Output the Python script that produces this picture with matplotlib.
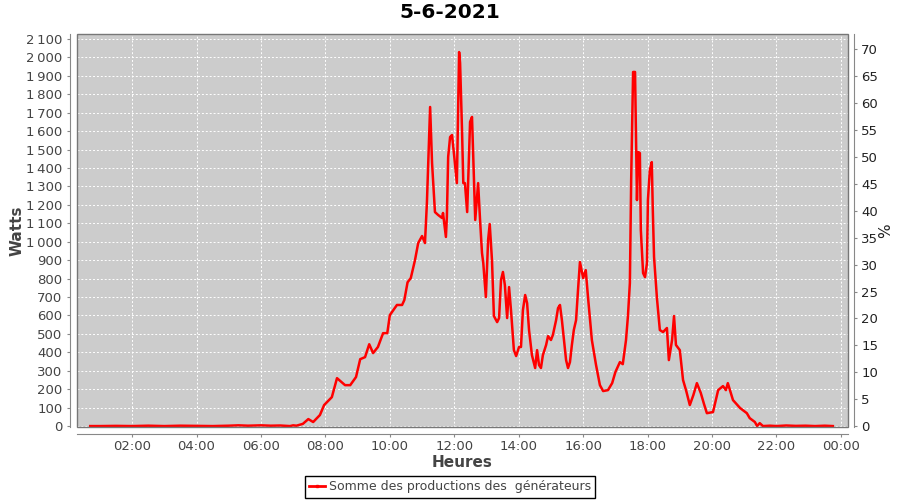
import matplotlib
matplotlib.use("Agg")
import matplotlib.pyplot as plt
from matplotlib.lines import Line2D
from matplotlib.patches import Rectangle
from matplotlib.ticker import FuncFormatter, MultipleLocator

# production data (hours of the day, watts)
hours = [0.7, 1.0, 1.5, 2.0, 2.5, 3.0, 3.5, 4.0, 4.5, 5.0, 5.3, 5.6, 6.0, 6.3,
         6.6, 6.9, 7.0, 7.1, 7.22, 7.3, 7.47, 7.62, 7.83, 7.96, 8.2, 8.36,
         8.61, 8.77, 8.95, 9.08, 9.23, 9.36, 9.48, 9.63, 9.79, 9.92, 10.0,
         10.22, 10.38, 10.45, 10.55, 10.65, 10.78, 10.88, 11.0, 11.09, 11.15,
         11.25, 11.31, 11.4, 11.5, 11.62, 11.65, 11.74, 11.77, 11.81, 11.87,
         11.93, 12.0, 12.08, 12.15, 12.18, 12.24, 12.28, 12.33, 12.4, 12.49,
         12.55, 12.6, 12.65, 12.74, 12.8, 12.86, 12.9, 12.98, 13.05, 13.1,
         13.17, 13.23, 13.33, 13.39, 13.45, 13.51, 13.57, 13.64, 13.7, 13.76,
         13.85, 13.92, 14.01, 14.07, 14.13, 14.2, 14.26, 14.32, 14.41, 14.51,
         14.57, 14.63, 14.69, 14.75, 14.85, 14.91, 15.0, 15.06, 15.16, 15.22,
         15.28, 15.34, 15.41, 15.47, 15.53, 15.59, 15.65, 15.71, 15.78, 15.84,
         15.9, 16.0, 16.08, 16.15, 16.27, 16.4, 16.52, 16.62, 16.77, 16.9,
         17.0, 17.14, 17.23, 17.33, 17.39, 17.45, 17.49, 17.55, 17.61, 17.67,
         17.71, 17.76, 17.79, 17.86, 17.92, 17.98, 18.01, 18.07, 18.13, 18.16,
         18.2, 18.29, 18.38, 18.48, 18.6, 18.66, 18.76, 18.82, 18.88, 19.0,
         19.1, 19.2, 19.31, 19.42, 19.53, 19.65, 19.75, 19.84, 20.03, 20.19,
         20.34, 20.43, 20.49, 20.65, 20.87, 21.08, 21.17, 21.33, 21.4, 21.48,
         21.58, 21.8, 22.0, 22.3, 22.6, 22.9, 23.2, 23.5, 23.75]
watts = [0, 0, 1, 0, 2, 0, 2, 1, 0, 2, 4, 2, 4, 2,
         3, 0, 4, 2, 8, 12, 38, 22, 60, 114, 157, 260,
         222, 222, 266, 363, 374, 444, 396, 429, 504, 504, 602,
         657, 657, 684, 780, 803, 900, 993, 1031, 993, 1210,
         1731, 1427, 1161, 1145, 1129, 1156, 1026, 1134, 1460, 1568,
         1579, 1460, 1318, 2029, 1970, 1606, 1318, 1318, 1161, 1650,
         1677, 1389, 1118, 1318, 1118, 939, 884, 700, 1010, 1096,
         900, 597, 564, 586, 792, 836, 765, 586, 754, 629,
         412, 380, 429, 429, 629, 711, 667, 521, 385, 315,
         412, 331, 315, 385, 440, 488, 467, 494, 575, 640,
         657, 575, 456, 358, 315, 347, 440, 521, 575, 738,
         890, 803, 846, 700, 467, 331, 222, 190, 195, 233,
         293, 347, 336, 467, 597, 776, 1335, 1921, 1921, 1226,
         1487, 1481, 1063, 830, 808, 884, 1226, 1389, 1432, 1183,
         917, 694, 521, 510, 532, 358, 467, 597, 440, 412,
         250, 190, 114, 168, 233, 180, 120, 70, 76, 195,
         217, 195, 233, 141, 98, 70, 43, 22, 0, 16,
         0, 2, 0, 3, 1, 2, 0, 2, 0]

x_ticks = [2, 4, 6, 8, 10, 12, 14, 16, 18, 20, 22, 24]
x_labels = ["02:00", "04:00", "06:00", "08:00", "10:00", "12:00",
            "14:00", "16:00", "18:00", "20:00", "22:00", "00:00"]
rated_power = 29.2  # watts per percent

txt = "#444444"
axis_col = "#888888"

fig = plt.figure(figsize=(9, 5), dpi=100)
ax = fig.add_axes([77 / 900, 73 / 500, 771 / 900, 393 / 500])
ax.set_facecolor("#cccccc")

ax.plot(hours, watts, color="red", lw=1.8, zorder=3)

ax.set_xlim(0.29, 24.22)
ax.set_ylim(-5, 2127)
ax.set_xticks(x_ticks)
ax.set_xticklabels(x_labels)
ax.yaxis.set_major_locator(MultipleLocator(100))
ax.yaxis.set_major_formatter(FuncFormatter(
    lambda v, p: f"{int(v):,}".replace(",", "\u2009")))

ax.grid(True, color="white", linestyle=(0, (2, 2)), linewidth=0.7)
ax.set_axisbelow(True)

for s in ["top", "right"]:
    ax.spines[s].set_visible(False)
ax.spines["left"].set_position(("outward", 5))
ax.spines["bottom"].set_position(("outward", 5))
for s in ["left", "bottom"]:
    ax.spines[s].set_color(axis_col)
ax.tick_params(colors=axis_col, labelcolor=txt, labelsize=9.5, length=2)
ax.tick_params(axis="x", pad=2)
ax.add_patch(Rectangle((0, 0), 1, 1, transform=ax.transAxes, fill=False,
                       edgecolor="#777777", lw=1, zorder=4, clip_on=False))

ax.set_xlabel("Heures", fontsize=11, fontweight="bold", color=txt, labelpad=2)
ax.set_ylabel("Watts", fontsize=11, fontweight="bold", color=txt, labelpad=1)

# right axis in percent
ax2 = ax.twinx()
lo, hi = ax.get_ylim()
ax2.set_ylim(lo / rated_power, hi / rated_power)
ax2.yaxis.set_major_locator(MultipleLocator(5))
for s in ["top", "left", "bottom"]:
    ax2.spines[s].set_visible(False)
ax2.spines["right"].set_position(("outward", 4))
ax2.spines["right"].set_color(axis_col)
ax2.tick_params(colors=axis_col, labelcolor="#222222", labelsize=9.5, length=2)
ax2.set_ylabel("%", fontsize=11, color="#222222", labelpad=0)

fig.suptitle("5-6-2021", fontsize=14.5, fontweight="bold", y=0.995)

handle = Line2D([], [], color="red", lw=2, marker="s", markersize=2)
leg = fig.legend([handle], ["Somme des productions des  générateurs"],
                 loc="lower center", bbox_to_anchor=(0.5, 0.0), fontsize=9,
                 frameon=True, fancybox=False, framealpha=1, edgecolor="black",
                 handlelength=1.3, handletextpad=0.3, borderpad=0.35,
                 borderaxespad=0.2)
leg.get_frame().set_linewidth(1)
for t in leg.get_texts():
    t.set_color(txt)

fig.savefig("out.png", dpi=100)
